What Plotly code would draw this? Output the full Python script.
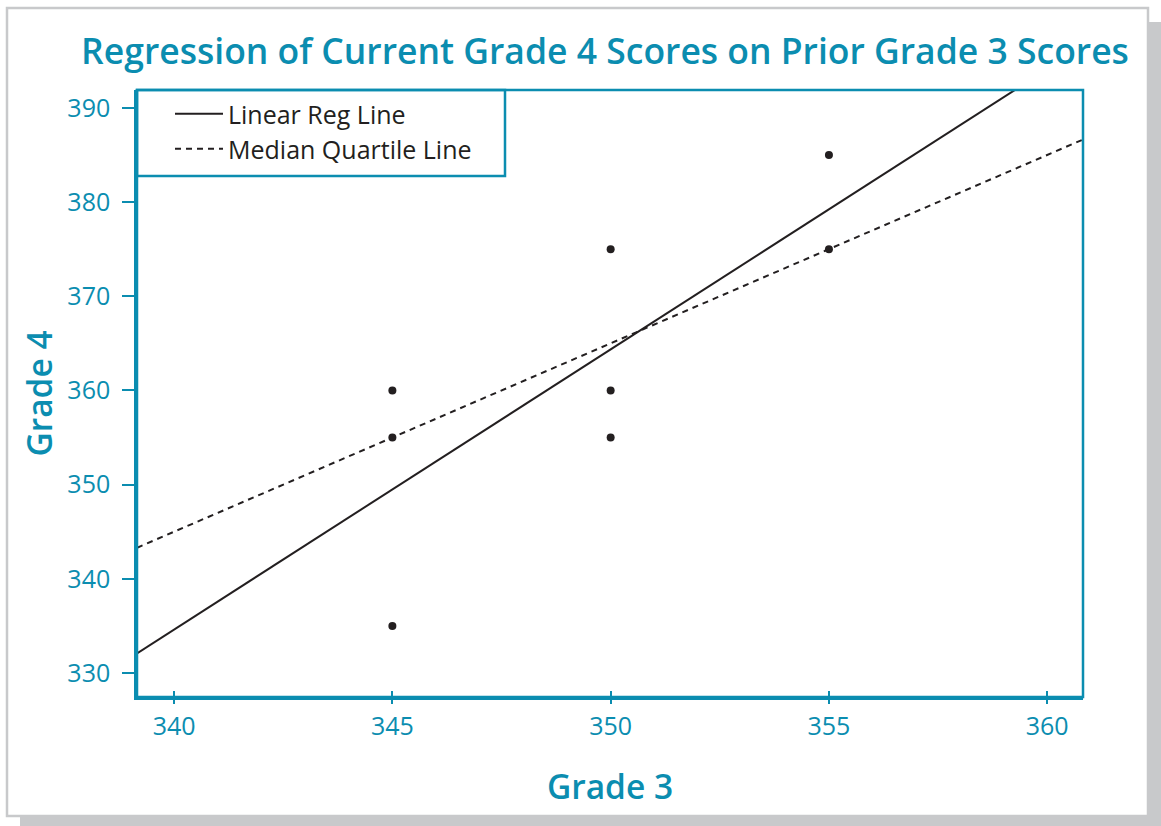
import numpy as np
import plotly.graph_objects as go

# ---- data ----
grade3 = [345, 345, 345, 350, 350, 350, 355, 355]
grade4 = [360, 355, 335, 375, 360, 355, 385, 375]
# anchor points of the median-quartile line
mq_x = [345, 355]
mq_y = [355, 375]
x_ticks = [340, 345, 350, 355, 360]
y_ticks = [330, 340, 350, 360, 370, 380, 390]
x_range = [339.15, 360.82]
y_range = [327.45, 391.9]

TEAL = "#0b8db0"
INK = "#231f20"
FONT = "Open Sans"

W, H = 1161, 826
ML, MR, MT, MB = 137, 78, 90, 129

# regression line from data
slope, intercept = np.polyfit(grade3, grade4, 1)
line_x = np.array(x_range)
reg_y = slope * line_x + intercept
mq_slope = (mq_y[1] - mq_y[0]) / (mq_x[1] - mq_x[0])
mq_line_y = mq_y[0] + mq_slope * (line_x - mq_x[0])

fig = go.Figure()
fig.add_trace(go.Scatter(x=line_x, y=reg_y, mode="lines", name="Linear Reg Line",
                         line=dict(color=INK, width=2), legend="legend"))
fig.add_trace(go.Scatter(x=line_x, y=mq_line_y, mode="lines", name="Median Quartile Line",
                         line=dict(color=INK, width=2, dash="6px,5px"), legend="legend2"))
fig.add_trace(go.Scatter(x=grade3, y=grade4, mode="markers", showlegend=False,
                         marker=dict(color=INK, size=8)))

# frame + shadow (paper coords computed from pixels)
pw = W - ML - MR
ph = H - MT - MB
def px(x):
    return (x - ML) / pw
def py(y):
    return (H - MB - y) / ph

shapes = [
    dict(type="rect", xref="paper", yref="paper", layer="below",
         x0=px(20), x1=px(W + 5), y0=py(22), y1=py(H + 5),
         fillcolor="#c8c9cb", line=dict(width=0)),
    dict(type="rect", xref="paper", yref="paper", layer="below",
         x0=px(7), x1=px(1148), y0=py(8), y1=py(816),
         fillcolor="white", line=dict(color="#c8c9cb", width=2.5)),
    # legend box
    dict(type="rect", xref="paper", yref="paper", layer="above",
         x0=0, x1=px(505), y0=py(176), y1=1,
         fillcolor="rgba(0,0,0,0)", line=dict(color=TEAL, width=2.5)),
    # plot frame
    dict(type="rect", xref="paper", yref="paper", layer="above",
         x0=0, x1=1, y0=0, y1=1, line=dict(color=TEAL, width=2.5)),
]

leg_common = dict(xanchor="left", yanchor="middle", borderwidth=0,
                  bgcolor="rgba(0,0,0,0)",
                  font=dict(family=FONT, size=25, color=INK), itemwidth=48)

fig.update_layout(
    width=W, height=H,
    margin=dict(l=ML, r=MR, t=MT, b=MB),
    paper_bgcolor="white", plot_bgcolor="white",
    shapes=shapes,
    title=dict(text="Regression of Current Grade 4 Scores on Prior Grade 3 Scores",
               x=605 / W, xanchor="center", y=1 - 52 / H, yanchor="middle",
               font=dict(family=FONT, size=35.5, color=TEAL, weight=600)),
    legend=dict(x=px(170), y=py(114), **leg_common),
    legend2=dict(x=px(170), y=py(149), **leg_common),
    xaxis=dict(range=x_range, tickvals=x_ticks, showgrid=False, zeroline=False,
               showline=True, linecolor=TEAL, linewidth=2.5,
               ticks="inside", ticklen=6, tickwidth=2, tickcolor=TEAL,
               tickfont=dict(family=FONT, size=25, color=TEAL),
               ticklabelstandoff=5,
               title=dict(text="Grade 3", standoff=35,
                          font=dict(family=FONT, size=33.5, color=TEAL, weight=600))),
    xaxis2=dict(range=x_range, tickvals=x_ticks, overlaying="x", side="bottom",
                showgrid=False, zeroline=False, showline=False, showticklabels=False,
                ticks="outside", ticklen=6, tickwidth=2, tickcolor=TEAL, anchor="y"),
    yaxis=dict(range=y_range, tickvals=y_ticks, showgrid=False, zeroline=False,
               showline=True, linecolor=TEAL, linewidth=2.5,
               ticks="outside", ticklen=12, tickwidth=2, tickcolor=TEAL,
               tickfont=dict(family=FONT, size=25, color=TEAL),
               ticklabelstandoff=7,
               title=dict(text="Grade 4", standoff=5,
                          font=dict(family=FONT, size=33.5, color=TEAL, weight=600))),
)
# dummy trace for xaxis2 ticks
fig.add_trace(go.Scatter(x=[x_range[0]], y=[y_range[0]], xaxis="x2", mode="markers",
                         marker=dict(opacity=0), showlegend=False, hoverinfo="skip"))

fig.write_html("out.html", config={"displayModeBar": False},
               post_script="document.body.style.margin='0';document.body.style.overflow='hidden';")
